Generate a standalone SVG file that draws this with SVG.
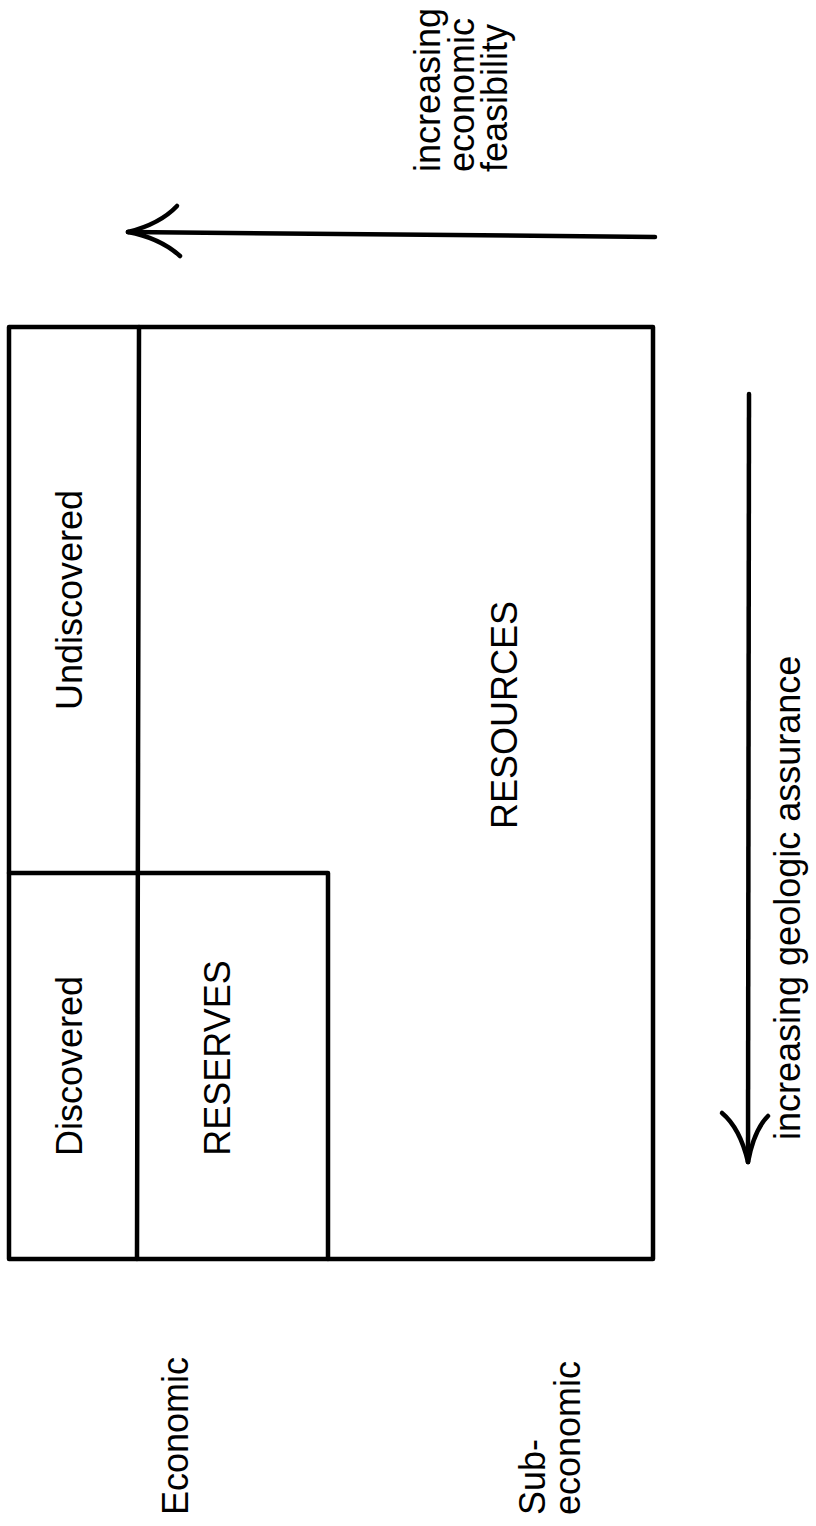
<svg xmlns="http://www.w3.org/2000/svg" width="816" height="1526" viewBox="0 0 816 1526">
<style>
.ln{fill:none;stroke:#000;stroke-width:4.5;stroke-linecap:round;stroke-linejoin:round}
.t{font-family:"Liberation Sans",Arial,Helvetica,sans-serif;font-size:36px;fill:#000}
.m{text-anchor:middle}
</style>
<rect width="816" height="1526" fill="#fff"/>
<g id="frame">
<rect class="ln" x="9" y="327" width="644" height="932"/>
<line class="ln" x1="139" y1="327" x2="137" y2="1259"/>
</g>
<g id="undiscovered">
<text class="t m" transform="translate(82,600) rotate(-90)">Undiscovered</text>
</g>
<g id="discovered">
<text class="t m" transform="translate(82,1066) rotate(-90)">Discovered</text>
</g>
<g id="reserves">
<path class="ln" d="M9,873 L328,873 L328,1259"/>
<text class="t m" transform="translate(230,1058) rotate(-90)">RESERVES</text>
</g>
<g id="resources">
<text class="t m" transform="translate(517,715) rotate(-90)">RESOURCES</text>
</g>
<g id="economic">
<text class="t" transform="translate(188,1515) rotate(-90)">Economic</text>
</g>
<g id="subeconomic">
<text class="t" transform="translate(545,1515) rotate(-90)">Sub-</text>
<text class="t" transform="translate(580,1515) rotate(-90)">economic</text>
</g>
<g id="feasibility-label">
<text class="t" transform="translate(440,172) rotate(-90)">increasing</text>
<text class="t" transform="translate(474,172) rotate(-90)">economic</text>
<text class="t" transform="translate(507,172) rotate(-90)">feasibility</text>
</g>
<g id="assurance-label">
<text class="t" transform="translate(800,1140) rotate(-90)">increasing geologic assurance</text>
</g>
<g id="connectors">
<path class="ln" d="M655,237 L128,232"/>
<path class="ln" d="M128,232 Q160,224 177,206"/>
<path class="ln" d="M128,232 Q160,238 180,256"/>
<path class="ln" d="M749,394 L748,1162"/>
<path class="ln" d="M748,1162 Q740,1128 722,1113"/>
<path class="ln" d="M748,1162 Q754,1130 768,1116"/>
</g>
</svg>
